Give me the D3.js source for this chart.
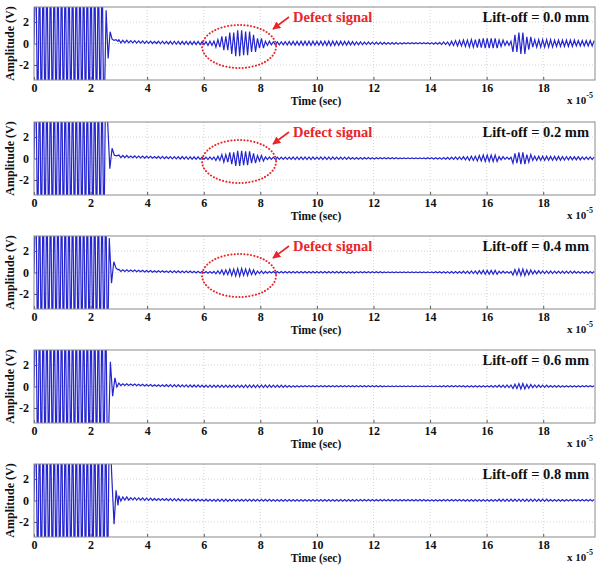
<!DOCTYPE html>
<html><head><meta charset="utf-8">
<script src="https://cdn.jsdelivr.net/npm/d3@7"></script>
<style>
html,body{margin:0;padding:0;background:#fff;}
svg text{font-family:"Liberation Serif","Times New Roman",serif;font-weight:bold;}
</style></head>
<body><svg id="c" width="598" height="569"></svg>
<script>
// ---------- data ----------
const xDomain = [0, 19.83];          // time in units of 1e-5 s
const yDomain = [-3.4, 3.4];         // amplitude (V)
const xTicks = [0, 2, 4, 6, 8, 10, 12, 14, 16, 18];
const yTicks = [-2, 0, 2];
const panelLabels = ["Lift-off = 0.0 mm", "Lift-off = 0.2 mm", "Lift-off = 0.4 mm", "Lift-off = 0.6 mm", "Lift-off = 0.8 mm"];
const defectPanels = [true, true, true, false, false];
const defectCenter = [7.25, 0];      // time, amplitude of the marked defect echo
const burstEnd = [2.48, 2.56, 2.62, 2.64, 2.70];
const burstAmp = 8;
const burstHalfPeriod = 0.065;
const carrierHalfPeriod = 0.07;
const tailStart = 3.0;
const envStep = 0.25;
const ringdown00 = [[2.55, 3.1], [2.62, -1.4], [2.69, 1.1], [2.76, 0.4], [2.83, 0.3], [2.90, 0.35], [2.97, 0.2]];
const ringdown02 = [[2.60, 3.6], [2.68, -0.95], [2.76, 0.95], [2.84, 0.3], [2.92, 0.25]];
const ringdown04 = [[2.66, 3.2], [2.74, -1.0], [2.82, 1.0], [2.90, 0.4], [2.97, 0.25]];
const ringdown06 = [[2.70, 2.3], [2.78, -0.9], [2.86, 0.8], [2.93, -0.05]];
const ringdown08 = [[2.75, 2.2], [2.83, -2.2], [2.90, 0.95], [2.97, -0.45]];
// envelope of the received signal, t = 3.0 .. 19.75 step 0.25
const env00 = [0.15,0.12,0.1,0.1,0.1,0.1,0.12,0.12,
  0.14,0.14,0.15,0.15,0.14,0.2,0.35,0.65,
  1.0,1.2,1.1,0.8,0.45,0.2,0.14,0.14,
  0.16,0.18,0.2,0.2,0.18,0.2,0.22,0.2,
  0.18,0.16,0.14,0.12,0.1,0.1,0.08,0.08,
  0.06,0.05,0.05,0.05,0.06,0.08,0.12,0.2,
  0.25,0.3,0.35,0.4,0.45,0.45,0.3,0.2,
  0.8,1.0,0.6,0.35,0.35,0.35,0.3,0.3,
  0.3,0.25,0.25,0.25];
const env02 = [0.12,0.1,0.08,0.08,0.08,0.08,0.1,0.1,
  0.1,0.12,0.12,0.12,0.1,0.12,0.2,0.35,
  0.55,0.7,0.65,0.45,0.25,0.12,0.1,0.1,
  0.1,0.12,0.12,0.12,0.1,0.12,0.12,0.1,
  0.1,0.08,0.08,0.07,0.06,0.05,0.05,0.05,
  0.04,0.04,0.04,0.04,0.05,0.06,0.08,0.1,
  0.12,0.15,0.2,0.25,0.3,0.3,0.15,0.1,
  0.45,0.55,0.35,0.2,0.2,0.18,0.18,0.16,
  0.15,0.15,0.12,0.12];
const env04 = [0.1,0.08,0.07,0.07,0.07,0.07,0.07,0.07,
  0.08,0.08,0.08,0.08,0.07,0.08,0.14,0.22,
  0.3,0.35,0.3,0.22,0.12,0.08,0.07,0.07,
  0.07,0.07,0.07,0.07,0.07,0.07,0.07,0.07,
  0.06,0.06,0.05,0.05,0.05,0.05,0.04,0.04,
  0.04,0.04,0.04,0.04,0.04,0.05,0.06,0.08,
  0.08,0.1,0.12,0.15,0.18,0.18,0.1,0.08,
  0.25,0.3,0.22,0.15,0.12,0.12,0.1,0.1,
  0.1,0.08,0.08,0.08];
const env06 = [0.12,0.08,0.07,0.07,0.07,0.07,0.08,0.09,
  0.1,0.1,0.1,0.1,0.1,0.1,0.1,0.1,
  0.1,0.1,0.12,0.12,0.12,0.12,0.1,0.1,
  0.08,0.06,0.05,0.05,0.05,0.05,0.05,0.05,
  0.05,0.05,0.05,0.05,0.05,0.05,0.04,0.04,
  0.04,0.04,0.04,0.04,0.04,0.04,0.05,0.05,
  0.05,0.06,0.06,0.06,0.06,0.08,0.1,0.12,
  0.2,0.25,0.18,0.12,0.1,0.08,0.08,0.06,
  0.06,0.06,0.05,0.05];
const env08 = [0.25,0.15,0.1,0.1,0.1,0.09,0.09,0.1,
  0.1,0.1,0.09,0.09,0.09,0.09,0.1,0.1,
  0.09,0.09,0.09,0.09,0.09,0.09,0.08,0.08,
  0.08,0.08,0.08,0.08,0.08,0.08,0.08,0.08,
  0.08,0.08,0.07,0.07,0.07,0.07,0.07,0.07,
  0.07,0.07,0.07,0.07,0.06,0.06,0.07,0.07,
  0.07,0.08,0.08,0.08,0.08,0.08,0.1,0.1,
  0.1,0.1,0.1,0.1,0.1,0.08,0.08,0.08,
  0.07,0.07,0.07,0.07];
// slowly decaying baseline offset after the excitation, t = 3.0 .. 6.0 step 0.25
const baselineOffset = [0.2,0.18,0.16,0.14,0.12,0.1,0.09,0.08,0.07,0.06,0.05,0.04,0.03];

const ringdowns = [ringdown00, ringdown02, ringdown04, ringdown06, ringdown08];
const envelopes = [env00, env02, env04, env06, env08];

// ---------- layout ----------
const left = 34, right = 595;
const panelTops = [7, 122, 236, 350, 464];
const ph = 73;
const svg = d3.select("#c");
const blue = "#2424d0";
const red = "#e8262a";

const x = d3.scaleLinear().domain(xDomain).range([left, right]);

svg.append("defs").append("marker")
  .attr("id", "arr").attr("viewBox", "0 0 10 10").attr("refX", 9).attr("refY", 5)
  .attr("markerWidth", 5).attr("markerHeight", 5).attr("orient", "auto")
  .append("path").attr("d", "M0,0 L10,5 L0,10 z").attr("fill", red);

function buildSeries(p) {
  const pts = [];
  let k = 0;
  for (let t = 0; t < burstEnd[p]; t += burstHalfPeriod, k++) {
    pts.push([t, k === 0 ? 0 : (k % 2 ? burstAmp : -burstAmp)]);
  }
  ringdowns[p].forEach(d => pts.push(d));
  const env = envelopes[p];
  let s = 0;
  for (let t = tailStart; t <= xDomain[1] + 0.01; t += carrierHalfPeriod, s++) {
    const i = Math.min(env.length - 1, Math.round((t - tailStart) / envStep));
    const oi = Math.round((t - tailStart) / envStep);
    const off = oi < baselineOffset.length ? baselineOffset[oi] : 0.02;
    pts.push([t, off + (s % 2 ? -1 : 1) * env[i]]);
  }
  return pts;
}

panelTops.forEach((top, p) => {
  const g = svg.append("g");
  const y = d3.scaleLinear().domain(yDomain).range([top + ph, top]);
  const clipId = "clip" + p;
  g.append("clipPath").attr("id", clipId).append("rect")
    .attr("x", left).attr("y", top).attr("width", right - left).attr("height", ph);

  // grid
  const grid = g.append("g");
  grid.selectAll("line.gx").data(xTicks.filter(d => d > 0)).enter().append("line")
    .attr("x1", d => x(d)).attr("x2", d => x(d)).attr("y1", top).attr("y2", top + ph)
    .attr("stroke", "#c8c8c8").attr("stroke-width", 0.8).attr("stroke-dasharray", "1,2");
  grid.selectAll("line.gy").data(yTicks).enter().append("line")
    .attr("x1", left).attr("x2", right).attr("y1", d => y(d)).attr("y2", d => y(d))
    .attr("stroke", "#c8c8c8").attr("stroke-width", 0.8).attr("stroke-dasharray", "1,2");

  // axes
  const xa = g.append("g").attr("transform", `translate(0,${top + ph})`)
    .call(d3.axisBottom(x).tickValues(xTicks).tickSize(-3).tickPadding(3).tickFormat(d3.format("d")));
  const ya = g.append("g").attr("transform", `translate(${left},0)`)
    .call(d3.axisLeft(y).tickValues(yTicks).tickSize(-3).tickPadding(5).tickFormat(d => d < 0 ? "-" + Math.abs(d) : d));
  [xa, ya].forEach(a => {
    a.select(".domain").remove();
    a.selectAll(".tick line").attr("stroke", "#555");
    a.selectAll("text").attr("font-size", 12).attr("fill", "#111")
      .attr("font-family", "Liberation Serif, Times New Roman, serif").attr("font-weight", "bold");
  });

  // signal
  const line = d3.line().x(d => x(d[0])).y(d => y(d[1]));
  g.append("path").datum(buildSeries(p))
    .attr("clip-path", `url(#${clipId})`)
    .attr("d", line).attr("fill", "none").attr("stroke", blue).attr("stroke-width", 1.2);

  // frame
  g.append("rect").attr("x", left).attr("y", top).attr("width", right - left).attr("height", ph)
    .attr("fill", "none").attr("stroke", "#8a8a8a").attr("stroke-width", 1);

  // labels
  g.append("text").attr("x", 316).attr("y", top + ph + 25).attr("text-anchor", "middle")
    .attr("font-size", 11.5).attr("fill", "#111").text("Time (sec)");
  const sc = g.append("text").attr("x", 567).attr("y", top + ph + 24).attr("font-size", 11).attr("fill", "#111");
  sc.append("tspan").text("x 10");
  sc.append("tspan").attr("dy", -6).attr("font-size", 8).text("-5");
  g.append("text").attr("transform", `translate(14,${top + ph / 2}) rotate(-90)`)
    .attr("text-anchor", "middle").attr("font-size", 12).attr("fill", "#111").text("Amplitude (V)");
  g.append("text").attr("x", 589).attr("y", top + 15).attr("text-anchor", "end")
    .attr("font-size", 14.5).attr("fill", "#111").text(panelLabels[p]);

  if (defectPanels[p]) {
    g.append("ellipse").attr("cx", x(defectCenter[0])).attr("cy", y(defectCenter[1]) + 3)
      .attr("rx", 37).attr("ry", 21.5).attr("fill", "none").attr("stroke", red)
      .attr("stroke-width", 2).attr("stroke-dasharray", "0.1,3.2").attr("stroke-linecap", "round");
    g.append("line").attr("x1", 289).attr("y1", top + 10).attr("x2", 273).attr("y2", top + 22)
      .attr("stroke", red).attr("stroke-width", 1.6).attr("marker-end", "url(#arr)");
    g.append("text").attr("x", 293).attr("y", top + 15).attr("font-size", 14.5)
      .attr("fill", red).text("Defect signal");
  }
});
</script></body></html>
